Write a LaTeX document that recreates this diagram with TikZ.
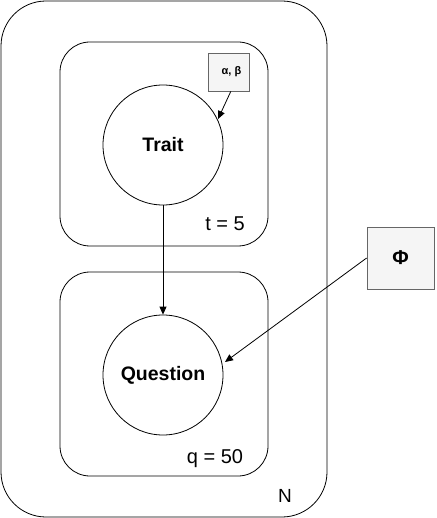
\documentclass[tikz,border=0pt]{standalone}
\usepackage{fontspec}
\setmainfont{Liberation Sans}
\usetikzlibrary{arrows.meta}
\definecolor{boxfill}{HTML}{F5F5F5}
\definecolor{boxline}{HTML}{666666}
\begin{document}
\begin{tikzpicture}[x=1pt,y=-1pt,
  plate/.style={draw,rounded corners=#1,line width=0.8pt},
  var/.style={draw,circle,minimum size=120pt,inner sep=0pt,font=\fontsize{19.5}{22}\selectfont\bfseries,line width=0.8pt},
  param/.style={draw=boxline,fill=boxfill,inner sep=0pt,line width=0.8pt},
  lab/.style={font=\fontsize{20}{23}\selectfont,inner sep=0pt},
  conn/.style={-{Triangle[length=8pt,width=7pt]},line width=0.8pt}]
\useasboundingbox (0,0) rectangle (436,518);
\draw[plate=45pt] (1,1) rectangle (327,517);
\draw[plate=30pt] (60,42) rectangle (268,246);
\draw[plate=30pt] (60,272) rectangle (268,476);
\node[var] (trait) at (163,145) {Trait};
\node[var] (question) at (163,375) {Question};
\node[param,minimum width=41pt,minimum height=38pt] (ab) at (228.8,72) {};
\node[font=\fontsize{11}{13}\selectfont\bfseries,inner sep=0pt] (abtext) at (231.5,72) {α, β};
\node[param,minimum width=67pt,minimum height=62pt,font=\fontsize{20}{22}\selectfont\bfseries] (phi) at (400.5,258) {Φ};
\node[lab] (t) at (225,224) {t = 5};
\node[lab] (q) at (215,459) {q = 50};
\node[lab,font=\fontsize{19}{22}\selectfont] (n) at (285,496) {N};
\draw[conn] (ab.south) ++(2,0) coordinate (abs) -- (218,119) coordinate (abe);
\draw[conn] (trait.south) -- (question.north);
\draw[conn] (phi.west) -- (225,362) coordinate (phie);
\end{tikzpicture}
\end{document}
